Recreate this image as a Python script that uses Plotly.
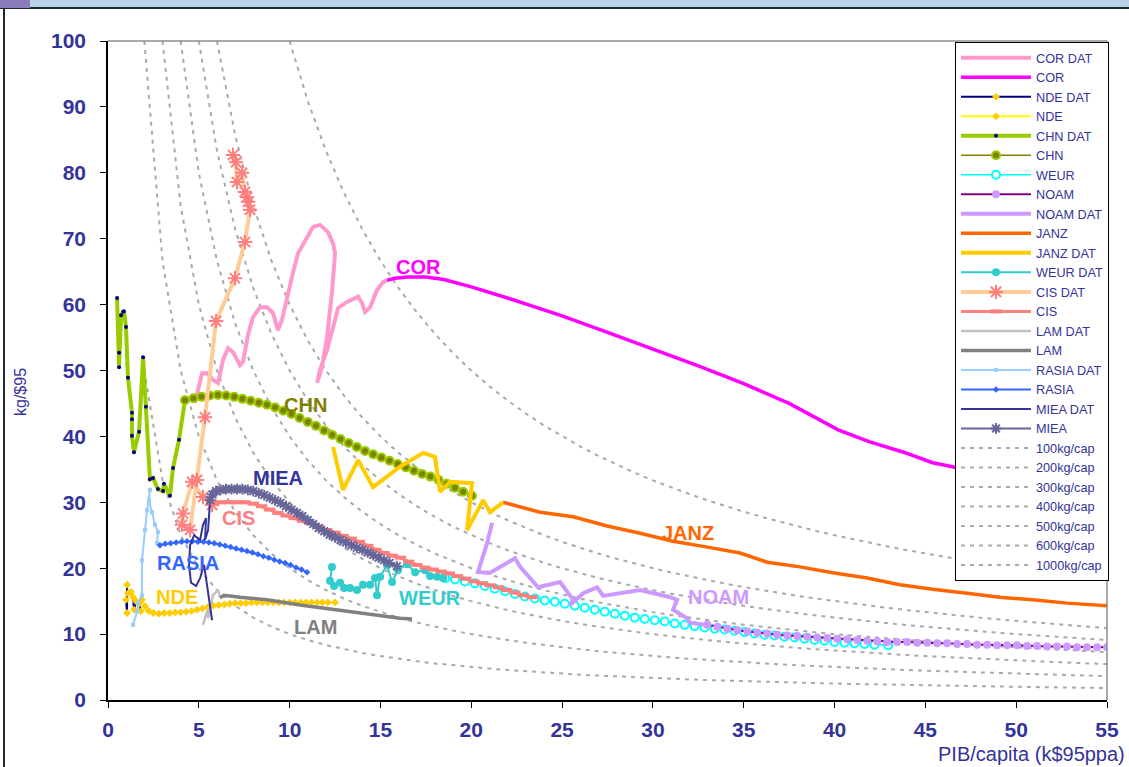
import plotly.graph_objects as go

# ---------------- data ----------------
# historical trajectories (GDP per capita k$95ppa, intensity kg/$95)
cor_dat_x = [4.79, 5.18, 5.45, 5.78, 6.06, 6.33, 6.61, 6.88, 7.27, 7.43, 7.71, 7.98, 8.37, 8.76, 9.09, 9.36,
             9.58, 9.86, 10.13, 10.46, 10.96, 11.29, 11.67, 12.11, 12.39, 12.50, 12.33, 12.06, 11.78, 11.51,
             11.67, 12.06, 12.50, 12.67, 13.16, 13.77, 13.99, 14.15, 14.43, 14.81, 15.14, 15.36]
cor_dat_y = [45.1, 49.6, 49.6, 48.6, 48.1, 51.6, 53.4, 52.8, 50.8, 51.3, 55.4, 58.1, 59.6, 59.6, 58.7, 56.1,
             57.7, 60.7, 64.2, 67.8, 70.3, 71.8, 72.1, 71.0, 69.3, 67.8, 61.8, 55.1, 50.5, 48.1,
             50.1, 53.1, 57.7, 59.5, 60.4, 61.2, 60.2, 58.9, 59.6, 62.2, 63.4, 63.7]

cor_x = [15.36, 15.8, 16.5, 17.5, 18.5, 20.0, 22.0, 25.0, 27.5, 30.0, 32.5, 35.0, 37.5, 40.2, 41.9, 43.8,
         45.4, 46.5, 48.5, 51.0, 53.0, 55.0]
cor_y = [63.7, 64.0, 64.2, 64.2, 63.8, 62.7, 61.0, 58.3, 55.8, 53.3, 50.7, 48.0, 45.0, 41.0, 39.2, 37.6,
         36.0, 35.4, 33.7, 31.8, 30.2, 28.8]

nde_dat_x = [1.05, 1.05, 0.99, 1.10, 1.27, 1.38, 1.43, 1.54, 1.71, 1.82]
nde_dat_y = [17.5, 13.2, 15.2, 16.2, 16.4, 15.6, 13.7, 15.0, 14.6, 13.5]

nde_x = [1.87, 2.05, 2.25, 2.50, 2.80, 3.10, 3.40, 3.70, 4.00, 4.30, 4.60, 4.90, 5.20, 5.50, 5.80, 6.10,
         6.40, 6.70, 7.00, 7.30, 7.60, 7.90, 8.20, 8.50, 8.80, 9.10, 9.40, 9.70, 10.00, 10.30, 10.60,
         10.90, 11.20, 11.50, 11.80, 12.10, 12.50]
nde_y = [15.2, 14.2, 13.5, 13.2, 13.1, 13.2, 13.2, 13.3, 13.3, 13.4, 13.5, 13.7, 13.9, 14.1, 14.3, 14.4,
         14.5, 14.6, 14.7, 14.7, 14.7, 14.8, 14.8, 14.8, 14.8, 14.8, 14.8, 14.8, 14.8, 14.8, 14.8,
         14.8, 14.8, 14.8, 14.8, 14.8, 14.8]

chn_dat_x = [0.50, 0.61, 0.61, 0.72, 0.83, 0.88, 0.99, 1.10, 1.32, 1.32, 1.32, 1.43, 1.71, 1.93, 2.09,
             2.31, 2.48, 2.75, 3.03, 3.08, 3.41, 3.58, 3.91, 4.24]
chn_dat_y = [61.0, 52.7, 50.5, 58.4, 58.9, 59.0, 56.6, 48.9, 43.6, 42.6, 40.1, 37.6, 40.7, 52.0, 44.5,
             33.5, 33.7, 32.0, 31.7, 32.8, 31.0, 35.2, 39.5, 45.5]

chn_x = [4.24, 4.70, 5.15, 5.60, 6.05, 6.50, 6.95, 7.40, 7.85, 8.30, 8.75, 9.20, 9.65, 10.10, 10.55,
         11.00, 11.45, 11.90, 12.35, 12.80, 13.25, 13.70, 14.15, 14.60, 15.05, 15.50, 15.95, 16.40,
         16.85, 17.30, 17.75, 18.20, 18.65, 19.10, 19.55, 20.04]
chn_y = [45.5, 45.8, 46.0, 46.2, 46.3, 46.2, 46.0, 45.7, 45.4, 45.1, 44.8, 44.4, 43.9, 43.4, 42.8,
         42.2, 41.6, 40.9, 40.2, 39.6, 39.0, 38.4, 37.8, 37.3, 36.8, 36.3, 35.8, 35.3,
         34.8, 34.3, 33.9, 33.4, 32.8, 32.2, 31.6, 31.0]

weur_x = [18.56, 19.10, 19.65, 20.20, 20.75, 21.30, 21.85, 22.40, 22.95, 23.50, 24.05, 24.60, 25.15,
          25.70, 26.25, 26.80, 27.35, 27.90, 28.45, 29.00, 29.55, 30.10, 30.65, 31.20, 31.75, 32.30,
          32.85, 33.40, 33.95, 34.50, 35.05, 35.60, 36.15, 36.70, 37.25, 37.80, 38.35, 38.90, 39.45,
          40.00, 40.55, 41.10, 41.65, 42.20, 42.95]
weur_y = [18.5, 18.3, 18.0, 17.7, 17.3, 16.9, 16.5, 16.1, 15.7, 15.4, 15.1, 14.9, 14.6,
          14.3, 14.0, 13.7, 13.4, 13.1, 12.8, 12.5, 12.3, 12.1, 11.9, 11.6, 11.4, 11.2,
          11.0, 10.8, 10.7, 10.5, 10.3, 10.1, 9.9, 9.8, 9.6, 9.5, 9.3, 9.1, 9.0,
          8.8, 8.7, 8.6, 8.5, 8.4, 8.3]

noam_x = [33.00, 33.55, 34.10, 34.65, 35.20, 35.75, 36.30, 36.85, 37.40, 37.95, 38.50, 39.05, 39.60,
          40.15, 40.70, 41.25, 41.80, 42.35, 42.90, 43.45, 44.00, 44.55, 45.10, 45.65, 46.20, 46.75,
          47.30, 47.85, 48.40, 48.95, 49.50, 50.05, 50.60, 51.15, 51.70, 52.25, 52.80, 53.35, 53.90,
          54.45, 55.00, 55.50]
noam_y = [11.4, 11.1, 10.8, 10.6, 10.4, 10.2, 10.1, 9.9, 9.8, 9.7, 9.6, 9.5, 9.4,
          9.3, 9.2, 9.1, 9.0, 8.9, 8.8, 8.8, 8.8, 8.7, 8.7, 8.6, 8.6, 8.5,
          8.5, 8.4, 8.4, 8.3, 8.3, 8.3, 8.2, 8.2, 8.1, 8.1, 8.1, 8.0, 8.0,
          8.0, 8.0, 8.0]

noam_dat_x = [21.15, 20.87, 20.37, 21.04, 22.41, 22.69, 23.68, 24.89, 25.61, 25.44, 26.16, 26.93, 27.26,
              29.30, 30.95, 31.33, 31.11, 31.88, 32.05, 33.00]
noam_dat_y = [26.9, 23.8, 19.4, 19.3, 21.5, 20.2, 17.1, 17.9, 15.2, 14.4, 16.2, 17.1, 15.8,
              16.7, 15.6, 15.2, 13.7, 12.4, 11.7, 11.4]

janz_x = [21.75, 23.79, 25.61, 27.48, 29.30, 31.10, 33.00, 34.80, 36.30, 38.10, 39.90, 41.80, 43.60,
          45.40, 47.30, 49.10, 50.90, 52.80, 55.00]
janz_y = [30.0, 28.5, 27.8, 26.4, 25.3, 24.1, 23.2, 22.3, 20.9, 20.2, 19.3, 18.5, 17.5,
          16.8, 16.2, 15.6, 15.2, 14.7, 14.3]

janz_dat_x = [12.39, 12.94, 13.77, 14.59, 16.08, 17.35, 18.00, 18.28, 18.83, 20.04, 19.77, 20.65, 21.04, 21.75]
janz_dat_y = [38.4, 31.9, 36.4, 32.3, 35.4, 37.5, 36.9, 31.6, 33.1, 32.9, 25.8, 30.3, 28.5, 30.0]

weur_dat_x = [12.33, 12.22, 12.44, 12.78, 13.00, 13.33, 13.71, 14.04, 14.43, 14.70, 14.81, 14.98, 15.36,
              15.64, 15.97, 16.46, 16.91, 17.46, 17.73, 18.12, 18.45]
weur_dat_y = [20.2, 18.1, 17.3, 17.8, 17.0, 17.0, 16.7, 17.5, 17.5, 18.5, 15.9, 18.7, 20.5,
              17.9, 19.7, 20.6, 19.4, 19.7, 18.8, 18.7, 18.5]

cis_dat_x = [6.88, 7.05, 7.10, 7.38, 7.54, 7.65, 7.71, 7.82, 7.54, 6.99, 5.95, 5.34, 4.90, 4.52, 4.07,
             4.13, 4.63, 5.23, 5.73]
cis_dat_y = [82.7, 81.6, 78.6, 80.0, 77.1, 76.3, 75.6, 74.4, 69.5, 64.0, 57.5, 42.9, 33.4, 25.8, 26.6,
             28.3, 33.1, 30.8, 29.6]

cis_x = [5.73, 6.20, 6.65, 7.10, 7.55, 8.00, 8.45, 8.90, 9.35, 9.80, 10.25, 10.70, 11.15, 11.60, 12.05,
         12.50, 12.95, 13.40, 13.85, 14.30, 14.75, 15.20, 15.65, 16.10, 16.55, 17.00, 17.45, 17.90,
         18.35, 18.80, 19.25, 19.70, 20.15, 20.60, 21.05, 21.50, 21.95, 22.40, 22.85, 23.35]
cis_y = [30.0, 30.0, 30.0, 30.0, 30.0, 29.8, 29.4, 28.9, 28.4, 28.0, 27.6, 27.2, 26.8, 26.3, 25.8,
         25.4, 24.9, 24.5, 24.0, 23.4, 22.8, 22.3, 21.9, 21.6, 21.0, 20.5, 20.1, 19.8,
         19.5, 19.2, 18.8, 18.4, 18.0, 17.7, 17.4, 17.1, 16.7, 16.3, 15.9, 15.6]

lam_dat_x = [5.23, 5.45, 5.62, 5.51, 5.78, 6.06, 6.17]
lam_dat_y = [11.4, 13.4, 14.0, 12.4, 15.9, 16.7, 15.6]

lam_x = [6.17, 6.39, 7.27, 8.76, 10.57, 12.39, 14.26, 16.08, 16.74]
lam_y = [15.5, 15.9, 15.6, 15.2, 14.4, 13.7, 13.0, 12.4, 12.3]

rasia_dat_x = [1.38, 1.60, 1.65, 1.87, 1.87, 2.04, 2.15, 2.31, 2.26, 2.42, 2.59, 2.75, 2.70, 2.86]
rasia_dat_y = [11.4, 13.4, 14.7, 15.9, 21.2, 25.8, 28.8, 31.9, 30.3, 28.5, 26.6, 25.5, 23.8, 23.5]

rasia_x = [2.86, 3.15, 3.45, 3.75, 4.05, 4.35, 4.65, 4.95, 5.25, 5.55, 5.85, 6.15, 6.45, 6.75, 7.05,
           7.35, 7.65, 7.95, 8.25, 8.55, 8.85, 9.15, 9.45, 9.75, 10.05, 10.35, 10.65, 10.96]
rasia_y = [23.5, 23.7, 23.8, 23.9, 24.0, 24.1, 24.1, 24.0, 24.0, 23.9, 23.8, 23.6, 23.4, 23.2, 23.0,
           22.8, 22.6, 22.4, 22.1, 21.8, 21.6, 21.3, 21.0, 20.8, 20.5, 20.1, 19.8, 19.4]

miea_dat_x = [5.73, 5.62, 5.45, 5.29, 5.07, 4.85, 4.57, 4.46, 4.52, 4.74, 5.07, 5.23, 5.40, 5.34, 5.51,
              5.56, 5.62]
miea_dat_y = [12.1, 14.4, 17.5, 20.5, 18.5, 17.3, 17.8, 20.5, 23.5, 25.0, 24.3, 26.6, 27.6, 24.3, 25.8,
              28.8, 30.3]

miea_x = [5.62, 5.75, 5.95, 6.20, 6.50, 6.80, 7.10, 7.40, 7.70, 8.00, 8.30, 8.60, 8.90, 9.20, 9.50,
          9.80, 10.10, 10.40, 10.70, 11.00, 11.30, 11.60, 11.90, 12.20, 12.50, 12.80, 13.10, 13.40,
          13.70, 14.00, 14.30, 14.60, 14.90, 15.20, 15.50, 15.90]
miea_y = [30.3, 31.2, 31.7, 31.9, 32.0, 32.0, 32.0, 32.0, 31.9, 31.7, 31.4, 31.1, 30.7, 30.3, 29.9,
          29.4, 28.9, 28.4, 27.9, 27.3, 26.7, 26.1, 25.6, 25.1, 24.7, 24.3, 23.9, 23.5,
          23.1, 22.8, 22.4, 22.0, 21.6, 21.2, 20.8, 20.3]

# iso-consumption levels (kg per capita) and the GDP grid they are traced on
iso_levels = [100, 200, 300, 400, 500, 600, 1000]
iso_grid = list(range(2, 56))

# ---------------- styling ----------------
NAVY = "#333399"
FONT = "Liberation Sans"

fig = go.Figure()

rank = [0]


def add(name, x, y, color, width, symbol=None, msize=6, mcolor=None, mline=None, mlinew=0, dash=None):
    rank[0] += 1
    marker = None
    mode = "lines"
    if symbol:
        mode = "lines+markers"
        marker = dict(symbol=symbol, size=msize, color=mcolor or color,
                      line=dict(color=mline or mcolor or color, width=mlinew))
    fig.add_trace(go.Scatter(
        x=x, y=y, name=name, mode=mode, marker=marker,
        line=dict(color=color, width=width, dash=dash),
        legendrank=rank[0], hoverinfo="skip"))


# iso-consumption curves (drawn first so trajectories sit on top)
for i, lvl in enumerate(iso_levels):
    xs = [g for g in iso_grid if lvl / g <= 100]
    ys = [lvl / g for g in xs]
    fig.add_trace(go.Scatter(
        x=xs, y=ys, name=f"{lvl}kg/cap", mode="lines",
        line=dict(color="#A9A9A9", width=2, dash="4px,5px"),
        legendrank=100 + i, hoverinfo="skip"))

add("COR DAT", cor_dat_x, cor_dat_y, "#FF99CC", 4)
add("COR", cor_x, cor_y, "#FF00FF", 3.5)
add("NDE DAT", nde_dat_x, nde_dat_y, "#000080", 2, "diamond", 6, "#FFCC00")
add("NDE", nde_x, nde_y, "#FFFF00", 2, "diamond", 6, "#FFCC00")
add("CHN DAT", chn_dat_x, chn_dat_y, "#99CC00", 4, "circle", 4, "#000080")
add("CHN", chn_x, chn_y, "#808000", 1.5, "circle", 8, "#808000", "#99CC00", 2)
add("WEUR", weur_x, weur_y, "#00FFFF", 1.5, "circle", 8, "white", "#00FFFF", 2)
add("NOAM", noam_x, noam_y, "#800080", 2, "circle", 8, "#CC99FF")
add("NOAM DAT", noam_dat_x, noam_dat_y, "#CC99FF", 4)
add("JANZ", janz_x, janz_y, "#FF6600", 3.5)
add("JANZ DAT", janz_dat_x, janz_dat_y, "#FFCC00", 4)
add("WEUR DAT", weur_dat_x, weur_dat_y, "#33CCCC", 2, "circle", 8, "#33CCCC")
add("CIS DAT", cis_dat_x, cis_dat_y, "#FFCC99", 4, "asterisk", 12, "#FF7F7F", "#FF7F7F", 2)
add("CIS", cis_x, cis_y, "#FF7F7F", 3, "line-ew", 8, "#FF7F7F", "#FF7F7F", 4)
add("LAM DAT", lam_dat_x, lam_dat_y, "#C0C0C0", 2.5)
add("LAM", lam_x, lam_y, "#808080", 3.5)
add("RASIA DAT", rasia_dat_x, rasia_dat_y, "#99CCFF", 2, "square", 4, "#99CCFF")
add("RASIA", rasia_x, rasia_y, "#3366FF", 2, "diamond", 5, "#3366FF")
add("MIEA DAT", miea_dat_x, miea_dat_y, "#333399", 2)
add("MIEA", miea_x, miea_y, "#666699", 2, "asterisk", 9, "#666699", "#666699", 2)

# region labels
labels = [
    ("COR", 17.1, 65.7, "#FF00FF"),
    ("CHN", 10.85, 44.8, "#808000"),
    ("MIEA", 9.36, 33.7, "#333399"),
    ("CIS", 7.16, 27.6, "#FF7F7F"),
    ("RASIA", 4.41, 20.8, "#3366FF"),
    ("NDE", 3.80, 15.6, "#FFCC00"),
    ("LAM", 11.45, 11.1, "#808080"),
    ("WEUR", 17.73, 15.5, "#33CCCC"),
    ("JANZ", 31.94, 25.3, "#FF6600"),
    ("NOAM", 33.6, 15.6, "#CC99FF"),
]
for txt, lx, ly, col in labels:
    fig.add_annotation(x=lx, y=ly, text=txt, showarrow=False,
                       font=dict(family=FONT, size=20, color=col, weight="bold"))


# slide frame pieces around the chart (pixel helpers for the 1129x767 canvas)
def px(v):
    return (v - 108) / 999.0


def py(v):
    return (700 - v) / 659.0


# axis titles
fig.add_annotation(xref="paper", yref="paper", x=px(1127), y=py(754), xanchor="right", yanchor="middle",
                   text="PIB/capita (k$95ppa)", showarrow=False,
                   font=dict(family=FONT, size=20, color=NAVY))
fig.add_annotation(xref="paper", yref="paper", x=px(20), y=py(392), xanchor="center", yanchor="middle",
                   text="kg/$95", textangle=-90, showarrow=False,
                   font=dict(family=FONT, size=16, color=NAVY))

shapes = [
    # top banner strip
    dict(type="rect", xref="paper", yref="paper", x0=px(0), x1=px(1129), y0=py(0), y1=py(8),
         fillcolor="#B9D3EC", line=dict(width=0), layer="below"),
    dict(type="line", xref="paper", yref="paper", x0=px(0), x1=px(1129), y0=py(8), y1=py(8),
         line=dict(color="#1C2B2B", width=2)),
    dict(type="line", xref="paper", yref="paper", x0=px(4), x1=px(4), y0=py(8), y1=py(767),
         line=dict(color="#1C2B2B", width=2)),
    dict(type="rect", xref="paper", yref="paper", x0=px(0), x1=px(30), y0=py(0), y1=py(8),
         fillcolor="#8A7CB8", line=dict(width=0)),
    # plot-area frame on top and right
    dict(type="line", xref="paper", yref="paper", x0=0, x1=1, y0=1, y1=1,
         line=dict(color="#8C8C8C", width=1.5)),
    dict(type="line", xref="paper", yref="paper", x0=1, x1=1, y0=0, y1=1,
         line=dict(color="#8C8C8C", width=1.5)),
]

fig.update_layout(
    width=1129, height=767,
    margin=dict(l=108, r=22, t=41, b=67),
    paper_bgcolor="white", plot_bgcolor="white",
    shapes=shapes,
    showlegend=True,
    legend=dict(
        x=px(955), y=py(42), xanchor="left", yanchor="top",
        bgcolor="white", bordercolor="black", borderwidth=1,
        font=dict(family=FONT, size=12.7, color=NAVY),
        itemwidth=70, tracegroupgap=0, maxheight=700,
    ),
    xaxis=dict(
        range=[0, 55], dtick=5, tick0=0, showgrid=False, zeroline=False, automargin=False,
        showline=True, linecolor="black", linewidth=1.5,
        ticks="outside", ticklen=6, tickcolor="black",
        ticklabelstandoff=4,
        tickfont=dict(family=FONT, size=21, color=NAVY, weight="bold"),
    ),
    yaxis=dict(
        range=[0, 100], dtick=10, tick0=0, showgrid=False, zeroline=False, automargin=False,
        showline=True, linecolor="black", linewidth=1.5,
        ticks="outside", ticklen=6, tickcolor="black",
        ticklabelstandoff=10,
        tickfont=dict(family=FONT, size=21, color=NAVY, weight="bold"),
    ),
)

fig.write_html("out.html")
